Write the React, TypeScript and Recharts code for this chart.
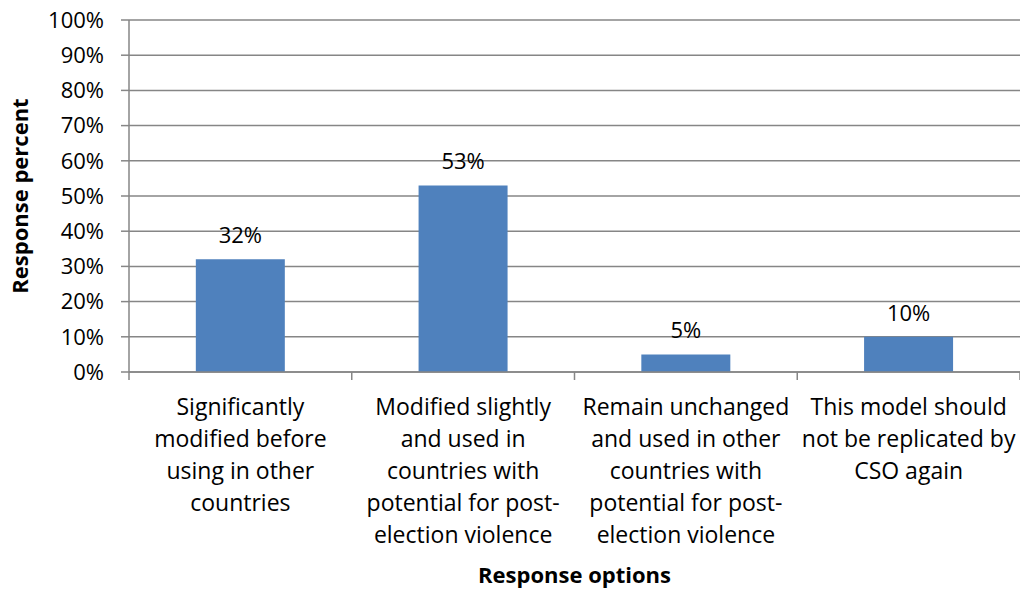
import { BarChart, Bar, XAxis, YAxis, CartesianGrid, LabelList, Label } from 'recharts'

const categories = [
  'Significantly modified before using in other countries',
  'Modified slightly and used in countries with potential for post-election violence',
  'Remain unchanged and used in other countries with potential for post-election violence',
  'This model should not be replicated by CSO again',
]

// wrapped tick text, one entry per category
const categoryLines = [
  ['Significantly', 'modified before', 'using in other', 'countries'],
  ['Modified slightly', 'and used in', 'countries with', 'potential for post-', 'election violence'],
  ['Remain unchanged', 'and used in other', 'countries with', 'potential for post-', 'election violence'],
  ['This model should', 'not be replicated by', 'CSO again'],
]

const responsePercent = [32, 53, 5, 10]

const yTicks = [0, 10, 20, 30, 40, 50, 60, 70, 80, 90, 100]

const data = categories.map((name, i) => ({ name, value: responsePercent[i] }))

const WIDTH = 1020
const HEIGHT = 590
const Y_AXIS_W = 129
const FONT = '"Open Sans", sans-serif'
const AXIS_GRAY = '#868686'

const CategoryTick = (props: any) => {
  const { x, y, index } = props
  const step = (WIDTH - Y_AXIS_W) / categories.length
  const lines = categoryLines[index] || []
  const left = x - step / 2
  const right = x + step / 2
  return (
    <g>
      <line x1={left} y1={y} x2={left} y2={y + 8} stroke={AXIS_GRAY} strokeWidth={1.5} />
      {index === categories.length - 1 && (
        <line x1={right} y1={y} x2={right} y2={y + 8} stroke={AXIS_GRAY} strokeWidth={1.5} />
      )}
      <text x={x} y={y + 43} textAnchor="middle" fontSize={23} fontFamily={FONT} fill="#000">
        {lines.map((line: string, i: number) => (
          <tspan key={i} x={x} dy={i === 0 ? 0 : 32}>
            {line}
          </tspan>
        ))}
      </text>
    </g>
  )
}

export default function App() {
  return (
    <div style={{ position: 'absolute', left: 0, top: 0, width: WIDTH, height: HEIGHT, background: '#fff' }}>
      <BarChart
        width={WIDTH}
        height={HEIGHT}
        data={data}
        margin={{ top: 20, right: 0, left: 0, bottom: 0 }}
        barCategoryGap="30%"
        style={{ fontFamily: FONT }}
      >
        <CartesianGrid vertical={false} stroke={AXIS_GRAY} strokeWidth={1.5} />
        <XAxis
          dataKey="name"
          height={HEIGHT - 20 - 352}
          interval={0}
          tickLine={false}
          tickSize={0}
          tickMargin={0}
          axisLine={{ stroke: AXIS_GRAY, strokeWidth: 1.5 }}
          tick={<CategoryTick />}
        >
          <Label
            value="Response options"
            position="insideBottom"
            offset={7}
            style={{ fontSize: 22, fontWeight: 700, fill: '#000', fontFamily: FONT }}
          />
        </XAxis>
        <YAxis
          width={Y_AXIS_W}
          domain={[0, 100]}
          ticks={yTicks}
          interval={0}
          tickSize={8}
          tickMargin={17}
          tickFormatter={(v) => `${v}%`}
          tick={{ fontSize: 22, fill: '#000', fontFamily: FONT }}
          tickLine={{ stroke: AXIS_GRAY, strokeWidth: 1.5 }}
          axisLine={{ stroke: AXIS_GRAY, strokeWidth: 1.5 }}
        >
          <Label
            value="Response percent"
            angle={-90}
            position="insideLeft"
            offset={20}
            style={{ fontSize: 22, fontWeight: 700, fill: '#000', textAnchor: 'middle', fontFamily: FONT }}
          />
        </YAxis>
        <Bar dataKey="value" fill="#4F81BD" isAnimationActive={false}>
          <LabelList
            dataKey="value"
            position="top"
            offset={16}
            formatter={(v: any) => `${v}%`}
            style={{ fontSize: 22, fill: '#000', fontFamily: FONT }}
          />
        </Bar>
      </BarChart>
    </div>
  )
}
